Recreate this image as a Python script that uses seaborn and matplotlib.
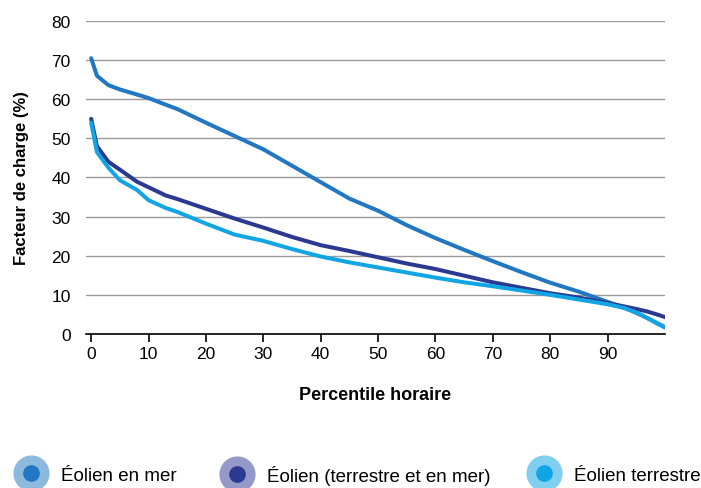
import matplotlib
matplotlib.use("Agg")
import matplotlib.pyplot as plt
from matplotlib.lines import Line2D
import pandas as pd
import seaborn as sns

# percentile positions (hourly load-factor duration curves)
percentile = [0, 1, 3, 5, 8, 10, 13, 15, 20, 25, 30, 35, 40, 45, 50, 55,
              60, 65, 70, 75, 80, 85, 90, 93, 95, 97, 99, 100]

offshore = [70.5, 66, 63.6, 62.5, 61.2, 60.3, 58.6, 57.5, 54, 50.6, 47.2, 43,
            38.8, 34.6, 31.5, 27.8, 24.5, 21.5, 18.6, 15.8, 13.1, 10.8, 8.2,
            6.6, 5.4, 4, 2.4, 1.7]
combined = [55, 48, 44, 42, 38.9, 37.5, 35.4, 34.5, 32, 29.5, 27.2, 24.8,
            22.7, 21.2, 19.6, 18, 16.6, 14.9, 13.2, 11.8, 10.4, 9.3, 7.9,
            7, 6.4, 5.7, 4.8, 4.3]
onshore = [54, 46.5, 42.5, 39.3, 36.8, 34.2, 32.2, 31.2, 28.2, 25.4, 23.8,
           21.7, 19.8, 18.3, 17, 15.7, 14.4, 13.2, 12.2, 11.1, 10.0, 8.8,
           7.6, 6.6, 5.5, 4, 2.5, 1.7]

series_names = ["Éolien en mer", "Éolien (terrestre et en mer)", "Éolien terrestre"]
line_colors = ["#2277c2", "#2b3990", "#12a5e4"]
halo_colors = ["#8db9de", "#9499c8", "#80cff1"]

df = pd.concat([
    pd.DataFrame({"Percentile": percentile, "Facteur": vals, "Série": name})
    for name, vals in zip(series_names, [offshore, combined, onshore])
])

sns.set_style("white")
plt.rcParams["font.family"] = ["Liberation Sans", "DejaVu Sans"]
plt.rcParams["text.color"] = "black"
plt.rcParams["axes.labelcolor"] = "black"
plt.rcParams["xtick.color"] = "black"
plt.rcParams["ytick.color"] = "black"

fig = plt.figure(figsize=(7.01, 4.89), dpi=100)
ax = fig.add_axes([0.1227, 0.315, 0.826, 0.640])

sns.lineplot(data=df, x="Percentile", y="Facteur", hue="Série",
             hue_order=series_names, palette=line_colors, linewidth=2.9,
             legend=False, ax=ax, zorder=3)

ax.set_xlim(-0.9, 100)
ax.set_ylim(0, 80)
ax.set_xticks(range(0, 100, 10))
ax.set_yticks(range(0, 90, 10))
ax.yaxis.grid(True, color="#9a9a9a", linewidth=1)
ax.xaxis.grid(False)
for side in ["top", "right", "left"]:
    ax.spines[side].set_visible(False)
ax.spines["bottom"].set_color("black")
ax.spines["bottom"].set_linewidth(1.2)
ax.spines["bottom"].set_zorder(4)
ax.tick_params(axis="x", length=6, width=1.2, color="black", labelsize=12.5, pad=3,
               bottom=True)
ax.tick_params(axis="y", length=0, labelsize=12.5, pad=11)

ax.set_xlabel("Percentile horaire", fontsize=13, fontweight="bold", labelpad=18)
ax.set_ylabel("Facteur de charge (%)", fontsize=12, fontweight="bold", labelpad=16)

# legend entries laid out individually along the bottom
legend_x = [14, 220, 527]
for name, h, c, x0 in zip(series_names, halo_colors, line_colors, legend_x):
    handle = (Line2D([], [], marker="o", ls="", ms=25, color=h),
              Line2D([], [], marker="o", ls="", ms=11, color=c))
    fig.legend([handle], [name], loc="center left",
               bbox_to_anchor=(x0 / 701, 1 - 476 / 489), frameon=False,
               fontsize=13.5, handlelength=1.85, handletextpad=0.68,
               borderpad=0, borderaxespad=0)

fig.savefig("out.png", dpi=100)
